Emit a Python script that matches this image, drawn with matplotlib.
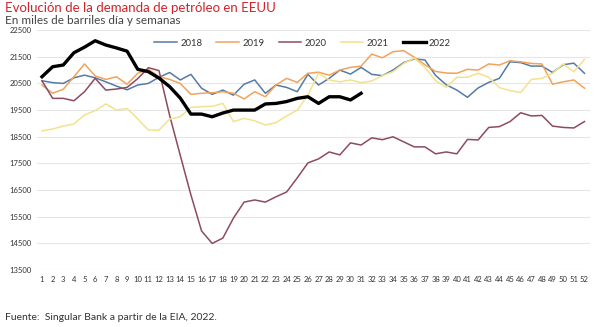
import matplotlib.pyplot as plt

plt.rcParams['font.family'] = ['Lato', 'DejaVu Sans']

# Demanda semanal de petróleo en EEUU (miles de barriles/día)
weeks = list(range(1, 53))

d2018 = [20600, 20530, 20500, 20710, 20810, 20710, 20560, 20400, 20260, 20440,
         20500, 20730, 20910, 20630, 20840, 20320, 20090, 20250, 20060, 20470,
         20630, 20130, 20440, 20350, 20190, 20840, 20440, 20690, 21000, 20850,
         21100, 20840, 20790, 21000, 21280, 21420, 21380, 20800, 20450, 20250,
         19980, 20330, 20540, 20690, 21310, 21280, 21150, 21150, 20910, 21200,
         21260, 20880]
d2019 = [20440, 20130, 20280, 20750, 21230, 20780, 20650, 20750, 20470, 20880,
         21030, 20750, 20650, 20500, 20090, 20130, 20150, 20190, 20130, 19920,
         20190, 20000, 20440, 20690, 20540, 20880, 20920, 20810, 21000, 21100,
         21150, 21600, 21460, 21690, 21730, 21480, 21200, 20950, 20890, 20880,
         21030, 21000, 21230, 21190, 21350, 21310, 21250, 21230, 20470, 20560,
         20630, 20320]
d2020 = [20600, 19940, 19940, 19850, 20190, 20690, 20250, 20290, 20350, 20680,
         21090, 20980, 19300, 17800, 16320, 14970, 14500, 14700, 15450, 16050,
         16130, 16050, 16250, 16430, 16960, 17520, 17670, 17930, 17820, 18270,
         18190, 18460, 18390, 18500, 18310, 18120, 18120, 17860, 17930, 17860,
         18400, 18380, 18850, 18880, 19070, 19400, 19280, 19300, 18900, 18850,
         18830, 19070]
d2021 = [18720, 18790, 18900, 18980, 19320, 19480, 19730, 19500, 19560, 19170,
         18750, 18750, 19160, 19250, 19600, 19630, 19640, 19750, 19070, 19190,
         19100, 18940, 19030, 19280, 19500, 20060, 20880, 20630, 20560, 20630,
         20530, 20590, 20790, 20940, 21250, 21450, 21100, 20600, 20350, 20730,
         20730, 20880, 20730, 20340, 20230, 20160, 20650, 20690, 20880, 21230,
         20940, 21400]
weeks_2022 = list(range(1, 32))
d2022 = [20750, 21125, 21190, 21650, 21860, 22100, 21940, 21830, 21710, 21030,
         20940, 20700, 20380, 19950, 19350, 19350, 19250, 19390, 19500, 19500,
         19500, 19730, 19750, 19820, 19940, 20000, 19750, 20000, 20000, 19880,
         20130]

yticks = [13500, 14500, 15500, 16500, 17500, 18500, 19500, 20500, 21500, 22500]

fig = plt.figure(figsize=(6, 3.27), dpi=100)
ax = fig.add_axes([0.062, 0.174, 0.921, 0.734])

ax.plot(weeks, d2018, color='#557ba5', lw=1.1, label='2018')
ax.plot(weeks, d2019, color='#f1a35c', lw=1.1, label='2019')
ax.plot(weeks, d2020, color='#8d4b63', lw=1.1, label='2020')
ax.plot(weeks, d2021, color='#f3e28d', lw=1.1, label='2021')
ax.plot(weeks_2022, d2022, color='black', lw=2.4, label='2022')

ax.set_xlim(0.55, 52.5)
ax.set_ylim(13500, 22500)
ax.set_yticks(yticks)
ax.set_yticklabels([str(v) for v in yticks], fontsize=5.5, color='#333333')
ax.set_xticks(weeks)
ax.set_xticklabels([str(w) for w in weeks], fontsize=5.5, color='#333333')
ax.tick_params(length=0, pad=4)
ax.grid(axis='y', color='#e6e6e6', lw=0.8)
ax.set_axisbelow(True)
for s in ax.spines.values():
    s.set_visible(False)

ax.legend(loc='upper center', bbox_to_anchor=(0.48, 1.0), ncol=5, frameon=False,
          fontsize=6.8, handlelength=2.4, columnspacing=1.5, handletextpad=0.35,
          labelcolor='#333333')

fig.text(0.008, 0.975, 'Evolución de la demanda de petróleo en EEUU', color='#d2232a',
         fontsize=9.5, ha='left', va='center')
fig.text(0.008, 0.937, 'En miles de barriles día y semanas', color='#444444',
         fontsize=8.5, ha='left', va='center')
fig.text(0.008, 0.03, 'Fuente:  Singular Bank a partir de la EIA, 2022.', color='#333333',
         fontsize=7.5, ha='left', va='center')

plt.savefig('out.png', dpi=100)
